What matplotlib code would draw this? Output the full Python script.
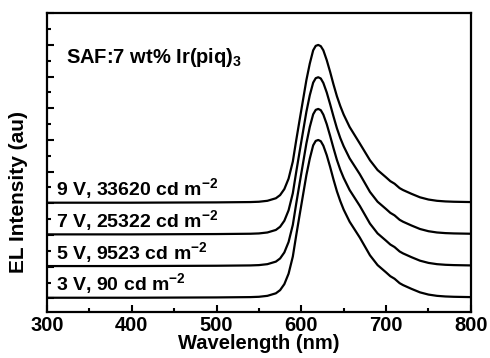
import matplotlib

matplotlib.use("Agg")
import matplotlib.pyplot as plt
from matplotlib.ticker import MultipleLocator, NullFormatter

plt.rcParams["font.family"] = ["Liberation Sans", "DejaVu Sans"]
plt.rcParams["font.weight"] = "bold"
plt.rcParams["mathtext.fontset"] = "custom"
plt.rcParams["mathtext.rm"] = "Liberation Sans:bold"
plt.rcParams["mathtext.bf"] = "Liberation Sans:bold"
plt.rcParams["mathtext.default"] = "bf"

# wavelength grid (nm)
wavelength = [300, 400, 500, 540, 550, 560, 570, 575, 580, 585, 590, 594, 598,
              602, 606, 610, 614, 617, 620, 623, 626, 630, 634, 638, 642, 646,
              650, 657, 669, 681, 690, 700, 705, 710, 716, 720, 730, 740, 750,
              760, 770, 780, 800]

# normalized EL spectra (peak = 5 units)
el_3v = [0.02, 0.02, 0.03, 0.04, 0.05, 0.08, 0.16, 0.26, 0.45, 0.78, 1.32, 1.99, 2.63,
         3.26, 3.89, 4.41, 4.83, 4.97, 5.0, 4.96, 4.82, 4.52, 4.15, 3.75, 3.38, 3.07,
         2.80, 2.42, 1.92, 1.36, 1.05, 0.82, 0.70, 0.62, 0.48, 0.42, 0.30, 0.19, 0.12,
         0.08, 0.06, 0.05, 0.04]
el_5v = [0.02, 0.02, 0.03, 0.04, 0.05, 0.08, 0.16, 0.26, 0.45, 0.78, 1.32, 1.99, 2.63,
         3.26, 3.89, 4.41, 4.81, 4.95, 4.98, 4.94, 4.80, 4.50, 4.13, 3.74, 3.37, 3.06,
         2.80, 2.42, 1.92, 1.36, 1.05, 0.82, 0.70, 0.62, 0.48, 0.42, 0.30, 0.19, 0.12,
         0.08, 0.06, 0.05, 0.04]
el_7v = [0.02, 0.02, 0.03, 0.04, 0.05, 0.08, 0.16, 0.26, 0.45, 0.78, 1.32, 1.99, 2.63,
         3.26, 3.89, 4.41, 4.81, 4.95, 4.98, 4.94, 4.80, 4.50, 4.13, 3.74, 3.37, 3.06,
         2.80, 2.42, 1.92, 1.36, 1.05, 0.82, 0.70, 0.62, 0.48, 0.42, 0.30, 0.19, 0.12,
         0.08, 0.06, 0.05, 0.04]
el_9v = [0.02, 0.02, 0.03, 0.04, 0.05, 0.08, 0.16, 0.26, 0.45, 0.78, 1.32, 1.99, 2.63,
         3.26, 3.89, 4.41, 4.83, 4.97, 5.0, 4.96, 4.83, 4.52, 4.15, 3.75, 3.38, 3.07,
         2.80, 2.41, 1.89, 1.36, 1.05, 0.82, 0.70, 0.62, 0.48, 0.42, 0.30, 0.19, 0.12,
         0.08, 0.06, 0.05, 0.04]

spectra = [el_3v, el_5v, el_7v, el_9v]
offsets = [0, 1, 2, 3]
labels = [r"3 V, 90 cd m$^{-2}$", r"5 V, 9523 cd m$^{-2}$",
          r"7 V, 25322 cd m$^{-2}$", r"9 V, 33620 cd m$^{-2}$"]

fig = plt.figure(figsize=(4.9, 3.58), dpi=100)
ax = fig.add_axes([0.0959, 0.1285, 0.865, 0.8345])

for spec, off, lab in zip(spectra, offsets, labels):
    ax.plot(wavelength, [v + off for v in spec], color="black", lw=1.6)
    ax.text(311, off + 0.46, lab, fontsize=14, fontweight="bold",
            va="center", ha="left")

ax.text(322, 7.6, r"SAF:7 wt% Ir(piq)$_3$", fontsize=14.5, fontweight="bold",
        va="center", ha="left")

ax.set_xlim(300, 800)
ax.set_ylim(-0.43, 9.0)
ax.xaxis.set_major_locator(MultipleLocator(100))
ax.xaxis.set_minor_locator(MultipleLocator(50))
ax.yaxis.set_major_locator(MultipleLocator(1))
ax.yaxis.set_minor_locator(MultipleLocator(0.5))
ax.yaxis.set_major_formatter(NullFormatter())
ax.tick_params(which="both", direction="in", top=False, right=False, width=1.5)
ax.tick_params(which="major", length=5, labelsize=14.5, pad=3)
ax.tick_params(which="minor", length=3)
for lbl in ax.get_xticklabels():
    lbl.set_fontweight("bold")
for s in ax.spines.values():
    s.set_linewidth(1.6)

ax.set_xlabel("Wavelength (nm)", fontsize=14.5, fontweight="bold", labelpad=-1)
ax.set_ylabel("EL Intensity (au)", fontsize=15, fontweight="bold")
ax.yaxis.set_label_coords(-0.045, 0.40)

fig.savefig("out.png", dpi=100)
